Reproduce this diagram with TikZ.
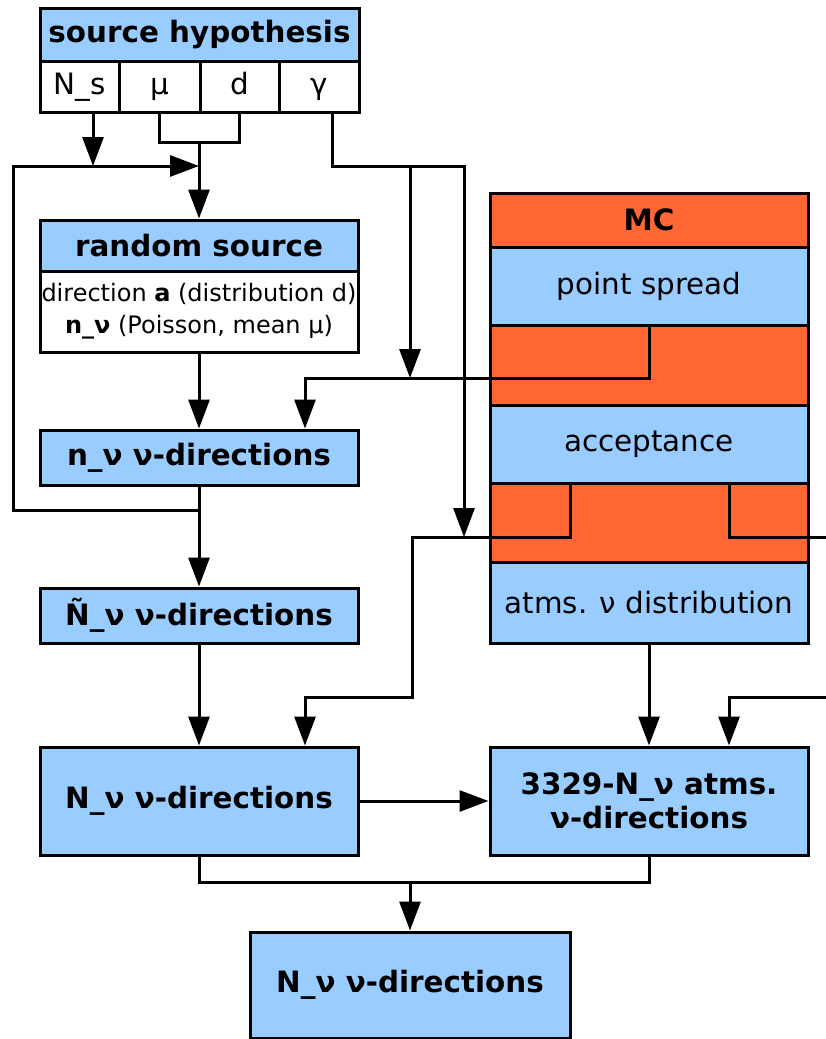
\documentclass[tikz,border=0pt]{standalone}
\usepackage{fontspec}
\setmainfont{DejaVu Sans}
\usetikzlibrary{arrows.meta}
\definecolor{boxblue}{HTML}{99CCFF}
\definecolor{mcorange}{HTML}{FF6633}
\tikzset{
  blubox/.style={draw, line width=3pt, fill=boxblue, rectangle, inner sep=0pt,
    minimum width=318pt, font=\fontsize{29.4}{34}\selectfont\bfseries},
  cellbox/.style={draw, line width=3pt, fill=white, rectangle, inner sep=0pt,
    minimum height=51pt, text height=21pt, text depth=6pt,
    font=\fontsize{29.4}{34}\selectfont},
  orabox/.style={draw, line width=3pt, fill=mcorange, rectangle, inner sep=0pt,
    minimum width=318pt},
  arr/.style={line width=3pt, -{Triangle[length=29pt,width=21pt]}},
  wire/.style={line width=3pt}
}
\begin{document}
\begin{tikzpicture}[x=1pt,y=-1pt]
            \useasboundingbox (0,0) rectangle (826,1039);
            % source hypothesis
            \node[blubox, minimum width=319pt, minimum height=53pt] (hyp) at (199.5,34.5) {source hypothesis};
            \node[cellbox, minimum width=79pt] (Ns) at (79.5,86.5) {N\_s};
            \node[cellbox, minimum width=81pt] (mu) at (159.5,86.5) {μ};
            \node[cellbox, minimum width=79pt] (d) at (239.5,86.5) {d};
            \node[cellbox, minimum width=80pt] (gam) at (319,86.5) {γ};
            % left column
            \node[blubox, minimum height=51pt] (rhead) at (199,245.5) {random source};
            \node[draw, line width=3pt, fill=white, inner sep=0pt, minimum width=318pt,
                  minimum height=81pt, align=center,
                  font=\fontsize{24}{32}\selectfont] (rbody) at (199,311.5)
                  {direction \textbf{a} (distribution d)\\\textbf{n\_ν} (Poisson, mean μ)};
            \node[blubox, minimum height=55pt] (nnu) at (199,457.5) {n\_ν ν-directions};
            \node[blubox, minimum height=55pt] (ntil) at (199,615.5) {Ñ\_ν ν-directions};
            \node[blubox, minimum height=108pt] (Nnu) at (199,801) {N\_ν ν-directions};
            % MC
            \node[orabox, minimum height=54pt, font=\fontsize{29.4}{34}\selectfont\bfseries] (mc) at (649,220) {MC};
            \node[blubox, minimum height=78pt, font=\fontsize{29.4}{34}\selectfont] (psf) at (649,286) {point spread};
            \node[orabox, minimum height=80pt] (gap1) at (649,365) {};
            \node[blubox, minimum height=78pt, font=\fontsize{29.4}{34}\selectfont] (acc) at (649,444) {acceptance};
            \node[orabox, minimum height=79pt] (gap2) at (649,522.5) {};
            \node[blubox, minimum height=81pt, font=\fontsize{29.4}{34}\selectfont] (atm) at (649,602.5) {atms. ν distribution};
            \node[blubox, minimum height=108pt, align=center] (atmdir) at (649,801) {3329-N\_ν atms.\\ν-directions};
            \node[blubox, minimum width=320pt, minimum height=106pt] (fin) at (410,985) {N\_ν ν-directions};
            % junctions
            \coordinate (jmd) at (199,142);
            \coordinate (jloop) at (199,166);
            \coordinate (jret) at (199,510);
            \coordinate (jgam) at (410,166);
            \coordinate (jpsf) at (410,378);
            \coordinate (jacc) at (464,537);
            \coordinate (jbot) at (410,882);
            % source hypothesis outputs
            \draw[arr] (Ns.south -| 93,0) -- (93,166);
            \draw[wire] (mu.south) -- (159.5,142) -- (239.5,142) -- (d.south);
            \draw[arr] (jmd) -- (rhead.north);
            \draw[wire] (gam.south -| 332,0) -- (332,166) -- (464,166);
            \draw[arr] (464,164.5) -- (jacc);
            \draw[arr] (jgam) -- (jpsf);
            % loop back
            \draw[arr] (jret) -- (13,510) -- (13,166) -- (jloop);
            % left column
            \draw[arr] (rbody.south) -- (nnu.north);
            \draw[arr] (nnu.south) -- (ntil.north);
            \draw[arr] (ntil.south) -- (Nnu.north);
            % MC outputs
            \draw[arr] (psf.south) -- (649,378) -- (305,378) -- (nnu.north -| 305,0);
            \draw[arr] (acc.south -| 570,0) -- (570,537) -- (412,537) -- (412,697) -- (305,697) -- (Nnu.north -| 305,0);
            \draw[wire] (acc.south -| 729,0) -- (729,537) -- (826,537);
            \draw[arr] (826,697) -- (729,697) -- (atmdir.north -| 729,0);
            \draw[arr] (atm.south) -- (atmdir.north);
            \draw[arr] (Nnu.east) -- (atmdir.west);
            % merge
            \draw[wire] (Nnu.south) -- (199,882) -- (649,882) -- (atmdir.south);
            \draw[arr] (jbot) -- (fin.north);
\end{tikzpicture}
\end{document}
